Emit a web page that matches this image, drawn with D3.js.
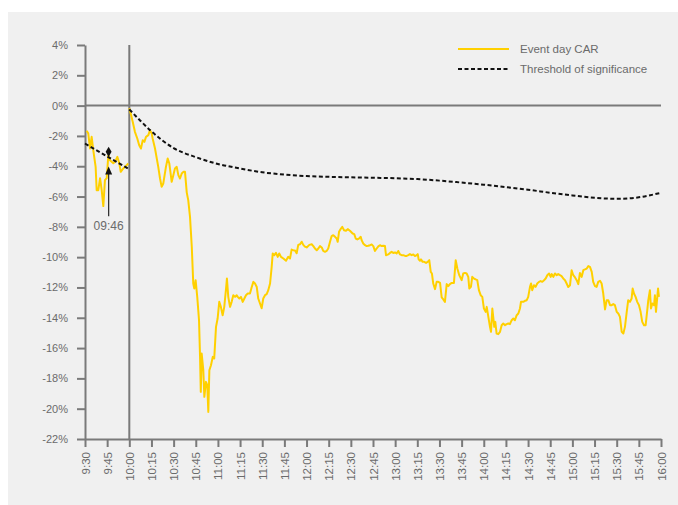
<!DOCTYPE html>
<html>
<head>
<meta charset="utf-8">
<script src="https://cdn.jsdelivr.net/npm/d3@7"></script>
<style>
  html, body { margin: 0; padding: 0; background: #ffffff; }
  svg { display: block; }
  text { font-family: "Liberation Sans", Arial, sans-serif; fill: #6b6b6b; }
</style>
</head>
<body>
<svg id="chart" width="678" height="505"></svg>
<script>
// ---- Data (time = minutes after 9:30, value = CAR in %) ----
const xTickLabels = ["9:30","9:45","10:00","10:15","10:30","10:45","11:00","11:15","11:30","11:45",
  "12:00","12:15","12:30","12:45","13:00","13:15","13:30","13:45","14:00","14:15","14:30","14:45",
  "15:00","15:15","15:30","15:45","16:00"];
const yTickValues = [4,2,0,-2,-4,-6,-8,-10,-12,-14,-16,-18,-20,-22];

const preTimes = [1.1,2.2,3.4,4.5,5.6,7.2,7.9,9.0,10.2,11.3,12.4,13.5,14.7,15.8,16.9,19.2,20.3,21.9,23.2,24.2,25.9,28.2,29.3];
const preCAR   = [-1.66,-1.83,-2.83,-2.06,-2.94,-4.04,-5.58,-5.58,-4.79,-5.58,-6.63,-4.92,-4.79,-3.27,-3.60,-3.80,-3.71,-3.38,-3.80,-4.37,-4.15,-3.93,-3.82];

const eventTimes = [30.0,30.9,32.3,33.8,35.4,36.7,37.9,39.1,40.2,41.3,42.9,44.0,45.2,45.8,47.4,49.6,50.8,51.9,53.0,54.8,
  56.0,57.1,58.7,59.8,60.9,62.1,63.2,64.3,65.5,66.6,67.7,68.9,69.9,71.1,72.3,73.3,74.0,74.9,76.0,77.2,
  77.9,78.4,79.0,80.1,80.8,81.9,82.8,83.5,84.2,85.3,86.5,87.5,88.7,89.8,90.9,92.0,93.2,94.3,95.5,96.1,
  97.0,98.2,99.3,100.4,101.6,102.7,103.4,104.5,105.6,106.8,107.9,109.0,110.2,111.7,112.9,114.0,115.1,116.3,117.3,118.5,
  119.6,120.7,121.9,123.0,124.1,125.3,126.4,127.1,128.2,129.3,130.5,131.5,132.7,134.3,136.1,137.6,138.8,139.9,141.0,142.2,
  143.3,144.4,145.6,146.7,147.8,148.9,150.1,151.9,153.5,154.6,155.7,156.9,158.0,159.1,160.3,161.3,162.5,163.6,164.7,165.9,
  167.0,168.1,169.3,170.4,171.1,172.0,173.3,174.2,175.4,176.7,177.9,179.4,181.2,182.3,183.3,184.4,185.5,186.7,187.3,188.4,
  189.6,190.7,191.8,193.0,194.1,195.2,196.3,197.5,198.6,199.7,200.9,202.0,203.1,203.8,205.3,206.5,207.6,208.7,209.9,211.0,
  212.1,213.3,214.4,215.5,216.7,217.8,218.9,220.0,221.2,222.3,223.4,224.6,225.3,225.9,226.8,227.5,228.6,229.7,230.9,232.0,
  233.1,234.1,234.9,235.8,237.0,238.1,239.2,240.4,241.5,242.6,243.7,244.9,246.0,247.1,248.3,249.8,251.0,252.1,253.4,255.0,
  256.1,257.3,258.4,259.5,260.2,261.3,262.2,263.4,264.5,265.6,266.7,267.9,269.0,270.1,271.3,272.0,273.1,274.2,274.9,275.8,
  276.4,277.1,277.8,278.7,279.8,281.0,282.1,283.2,284.4,285.5,286.6,287.7,288.9,290.0,291.1,292.3,293.4,294.5,295.2,296.7,
  297.9,299.1,300.1,301.3,302.0,302.8,304.0,305.1,306.2,307.4,308.5,309.6,310.8,311.9,313.0,314.2,315.3,316.0,317.1,318.2,
  319.4,320.4,321.6,322.7,323.8,325.0,326.1,327.2,328.4,329.5,330.6,331.8,332.9,334.0,335.1,336.3,337.4,338.5,339.7,340.8,
  341.9,343.1,344.1,345.3,346.4,347.5,348.7,349.8,350.9,352.1,353.2,354.3,355.5,356.6,357.7,358.8,360.0,361.1,362.2,363.4,
  364.5,365.6,366.8,367.8,369.0,370.1,370.8,371.7,372.8,373.9,375.1,376.2,377.3,378.5,379.6,380.7,381.4,382.5,383.2,384.1,
  385.3,385.9,386.6,387.3,388.0,388.6];
const eventCAR = [-0.18,-0.51,-1.07,-1.73,-2.17,-2.61,-2.83,-2.28,-2.39,-2.06,-1.95,-1.62,-1.84,-2.17,-2.83,-4.04,-4.81,-5.36,-5.14,-4.04,
  -3.49,-3.82,-5.03,-4.59,-4.15,-4.04,-4.59,-4.81,-4.48,-4.37,-4.37,-5.74,-6.24,-7.34,-9.31,-11.74,-12.07,-11.52,-12.62,-14.16,
  -16.58,-18.89,-16.36,-17.46,-19.22,-18.23,-18.45,-20.21,-17.46,-17.13,-16.58,-16.69,-14.60,-14.05,-12.95,-13.28,-13.83,-13.28,-12.07,-11.41,
  -12.62,-13.28,-12.95,-12.51,-12.62,-12.51,-12.62,-12.73,-12.62,-12.95,-12.73,-12.51,-12.40,-12.40,-11.97,-11.63,-11.74,-11.97,-12.73,-13.06,
  -13.37,-12.73,-12.51,-12.44,-12.18,-11.74,-10.64,-9.76,-9.87,-9.72,-9.98,-9.76,-9.98,-10.09,-10.24,-9.98,-10.09,-9.50,-9.54,-9.56,
  -9.74,-9.19,-9.15,-8.98,-9.19,-9.31,-9.36,-9.19,-9.15,-9.27,-9.43,-9.54,-9.43,-9.27,-9.36,-9.59,-9.65,-9.59,-9.43,-8.99,
  -8.61,-8.55,-8.66,-8.77,-8.99,-8.33,-8.11,-8.00,-8.22,-8.26,-8.15,-8.26,-8.44,-8.48,-8.77,-8.83,-8.77,-8.66,-8.88,-9.10,
  -9.21,-9.27,-9.25,-9.21,-9.16,-9.27,-9.59,-9.43,-9.29,-9.21,-9.27,-9.25,-9.27,-9.87,-9.82,-9.72,-9.65,-9.72,-9.69,-9.76,
  -9.59,-9.82,-9.87,-9.87,-9.92,-9.92,-9.87,-9.80,-9.87,-9.82,-9.93,-9.87,-9.80,-10.15,-10.24,-10.15,-10.31,-10.31,-10.38,-10.31,
  -10.20,-10.97,-11.08,-11.74,-12.11,-11.63,-11.63,-11.70,-12.66,-12.79,-12.95,-11.78,-11.91,-11.78,-11.70,-11.70,-10.20,-10.75,-11.19,-11.52,
  -11.08,-11.04,-11.08,-11.30,-12.07,-11.96,-11.30,-11.41,-11.47,-11.52,-12.18,-12.51,-12.62,-13.39,-13.61,-13.28,-13.94,-14.60,-14.93,-13.39,
  -13.94,-14.60,-14.27,-15.04,-15.08,-14.93,-14.49,-14.38,-14.49,-14.42,-14.38,-14.42,-14.16,-14.05,-14.16,-13.83,-13.72,-13.39,-12.95,-12.95,
  -12.88,-12.84,-12.62,-11.96,-11.74,-12.18,-11.85,-11.96,-11.74,-11.63,-11.58,-11.63,-11.52,-11.41,-11.19,-11.08,-11.30,-11.12,-11.30,-11.08,
  -11.19,-11.12,-11.19,-11.25,-11.41,-11.52,-11.74,-11.97,-11.85,-10.86,-11.19,-11.34,-11.52,-11.78,-11.04,-11.30,-10.86,-10.81,-10.75,-10.59,
  -10.64,-10.97,-11.63,-11.91,-11.96,-11.63,-11.56,-11.74,-12.40,-13.45,-12.84,-12.84,-13.17,-13.17,-13.10,-13.17,-13.61,-13.72,-13.94,-14.93,
  -15.04,-14.60,-13.61,-12.84,-12.95,-12.73,-12.07,-12.40,-12.62,-12.95,-13.17,-13.61,-14.27,-14.49,-14.49,-13.50,-12.84,-12.18,-13.39,-13.06,
  -13.17,-12.51,-13.61,-12.84,-12.07,-12.62];

const preThreshTimes = [0, 15, 30];
const preThresh      = [-2.5, -3.35, -4.2];
const threshTimes = [30,37,45,60,75,90,105,120,135,150,165,180,195,210,225,240,255,270,285,300,315,330,345,360,375,390];
const thresh      = [-0.25,-0.95,-1.7,-2.8,-3.4,-3.85,-4.15,-4.4,-4.55,-4.65,-4.7,-4.73,-4.76,-4.79,-4.85,-4.95,-5.08,-5.22,-5.38,-5.55,-5.75,-5.93,-6.08,-6.15,-6.05,-5.75];

const annotationTime = 16;   // 09:46
const annotationLabel = "09:46";
const annotationMarker = -3.05;
const seriesNames = ["Event day CAR", "Threshold of significance"];

// ---- Layout ----
const svg = d3.select("#chart");
const W = 678, H = 505;
const plot = { left: 85, right: 661, top: 45, bottom: 439 };
const axisColor = "#7a7a7a";
const yellow = "#ffd000";

svg.append("rect").attr("x", 8).attr("y", 12).attr("width", W - 8).attr("height", H - 12).attr("fill", "#f0f0f0");

const x = d3.scaleLinear().domain([0, 390]).range([plot.left, plot.right]);
const y = d3.scaleLinear().domain([-22, 4]).range([plot.bottom, plot.top]);

// y axis
const yAxis = svg.append("g").attr("transform", `translate(${plot.left},0)`)
  .call(d3.axisLeft(y).tickValues(yTickValues).tickFormat(d => d + "%").tickSize(8).tickSizeOuter(0));
yAxis.select(".domain").attr("stroke", axisColor).attr("stroke-width", 2);
yAxis.selectAll(".tick line").attr("stroke", axisColor).attr("stroke-width", 2);
yAxis.selectAll(".tick text").attr("x", -17).style("font-size", "11px").style("font-family", "Liberation Sans, Arial, sans-serif").attr("fill", "#6b6b6b");

// x axis
const xAxis = svg.append("g").attr("transform", `translate(0,${plot.bottom})`)
  .call(d3.axisBottom(x).tickValues(d3.range(0, 391, 15)).tickFormat((d, i) => xTickLabels[i]).tickSize(8).tickSizeOuter(0));
xAxis.select(".domain").attr("stroke", axisColor).attr("stroke-width", 2);
xAxis.selectAll(".tick line").attr("stroke", axisColor).attr("stroke-width", 2);
xAxis.selectAll(".tick text")
  .attr("transform", "rotate(-90)")
  .attr("text-anchor", "end")
  .attr("x", -13).attr("y", 0).attr("dy", "0.35em")
  .style("font-size", "11.5px").style("font-family", "Liberation Sans, Arial, sans-serif").attr("fill", "#6b6b6b");

// zero line and event line
svg.append("line").attr("x1", x(0)).attr("x2", x(390)).attr("y1", y(0)).attr("y2", y(0))
  .attr("stroke", axisColor).attr("stroke-width", 2);
svg.append("line").attr("x1", x(30)).attr("x2", x(30)).attr("y1", y(4)).attr("y2", y(-22))
  .attr("stroke", axisColor).attr("stroke-width", 2);

// CAR lines
const line = d3.line().x(d => x(d[0])).y(d => y(d[1]));
const preData = preTimes.map((t, i) => [t, preCAR[i]]);
const eventData = eventTimes.map((t, i) => [t, eventCAR[i]]);
[preData, eventData].forEach(data => {
  svg.append("path").datum(data).attr("d", line)
    .attr("fill", "none").attr("stroke", yellow).attr("stroke-width", 2).attr("stroke-linejoin", "round");
});

// threshold lines
const smooth = d3.line().x(d => x(d[0])).y(d => y(d[1])).curve(d3.curveMonotoneX);
const preTh = preThreshTimes.map((t, i) => [t, preThresh[i]]);
const evTh = threshTimes.map((t, i) => [t, thresh[i]]);
[preTh, evTh].forEach(data => {
  svg.append("path").datum(data).attr("d", smooth)
    .attr("fill", "none").attr("stroke", "#111").attr("stroke-width", 2).attr("stroke-dasharray", "4,2.5");
});

// annotation
const ax = x(annotationTime);
svg.append("path")
  .attr("d", d3.symbol().type(d3.symbolDiamond).size(30)())
  .attr("transform", `translate(${ax},${y(annotationMarker)})`)
  .attr("fill", "#111");
svg.append("line").attr("x1", ax).attr("x2", ax).attr("y1", y(-4.3)).attr("y2", y(-7.3))
  .attr("stroke", "#333").attr("stroke-width", 1.3);
svg.append("path")
  .attr("d", `M${ax},${y(-4.02)} L${ax - 3.5},${y(-4.02) + 8} L${ax + 3.5},${y(-4.02) + 8} Z`)
  .attr("fill", "#111");
svg.append("text").attr("x", ax).attr("y", y(-7.95)).attr("dy", "0.35em")
  .attr("text-anchor", "middle").style("font-size", "12px").text(annotationLabel);

// legend
const lg = svg.append("g");
const legendRows = [
  { name: seriesNames[0], stroke: yellow, dash: null, yPos: 49 },
  { name: seriesNames[1], stroke: "#111", dash: "4,2.5", yPos: 69 }
];
legendRows.forEach(r => {
  lg.append("line").attr("x1", 458).attr("x2", 509).attr("y1", r.yPos).attr("y2", r.yPos)
    .attr("stroke", r.stroke).attr("stroke-width", 2).attr("stroke-dasharray", r.dash);
  lg.append("text").attr("x", 520).attr("y", r.yPos).attr("dy", "0.35em")
    .style("font-size", "11.5px").text(r.name);
});
</script>
</body>
</html>
